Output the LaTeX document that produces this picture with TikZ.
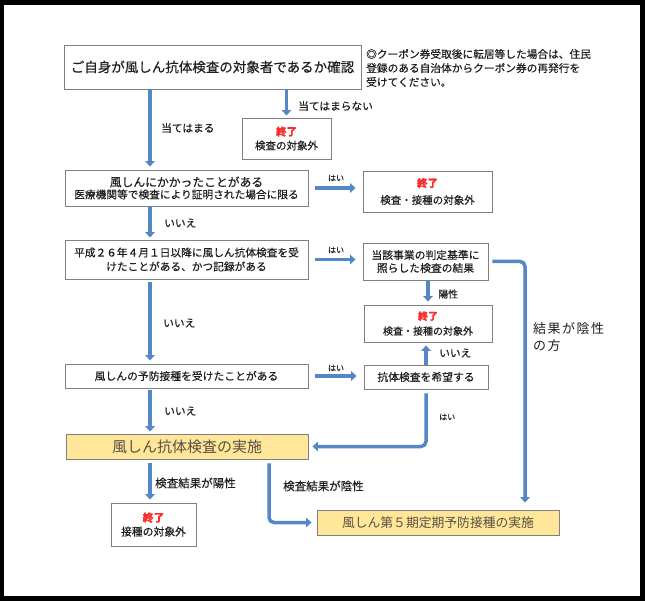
\documentclass[tikz,border=0pt]{standalone}
\usepackage{fontspec}
\setmainfont{Noto Sans CJK JP}[FakeBold=0.35]
\newfontfamily\thinjp{Noto Sans CJK JP}
\usetikzlibrary{arrows.meta}
\definecolor{flowblue}{RGB}{84,136,196}
\definecolor{boxgray}{RGB}{128,128,128}
\definecolor{goalfill}{RGB}{255,230,153}
\definecolor{goaltext}{RGB}{89,80,70}
\definecolor{endred}{RGB}{250,45,45}
\newcommand\shuryo{{\color{endred}\bfseries 終了}}
\newcommand\fs[2]{\fontsize{#1}{#2}\selectfont}

\begin{document}
\begin{tikzpicture}[x=1pt, y=-1pt,
     every node/.style={inner sep=0pt, text=black!88},
     fbox/.style={draw=boxgray, line width=0.9pt, fill=white, align=center},
     goal/.style={fbox, fill=goalfill, text=goaltext},
     lbl/.style={anchor=west, font=\fs{10.7}{13}},
     yes/.style={font=\fs{8}{10}},
     flow/.style={draw=flowblue, line width=3.5pt, -{Triangle[width=9.5pt,length=5.5pt]}},
     link/.style={flow, rounded corners=5pt}]

   \useasboundingbox (0,0) rectangle (645,601);
   \fill[black] (0,0) rectangle (645,601);
   \fill[white] (4,5) rectangle (640,596);

   \coordinate (lx) at (150,0);
   \coordinate (mx) at (269,0);
   \coordinate (rx) at (525,0);

   \node[fbox, minimum width=297pt, minimum height=44pt, font=\fs{13.5}{16}] (chk) at (212.5,67) {ご自身が風しん抗体検査の対象者であるか確認};
   \node[anchor=west, align=left, font=\fs{10.7}{14}] (note) at (366,68) {◎クーポン券受取後に転居等した場合は、住民\\登録のある自治体からクーポン券の再発行を\\受けてください。};
   \node[fbox, minimum width=89pt, minimum height=41pt, font=\fs{10.5}{14}] (out1) at (286.5,138.5) {\shuryo\\検査の対象外};
   \node[fbox, minimum width=243pt, minimum height=36pt] (rub) at (186.5,188) {{\fs{11.8}{13}風しんにかかったことがある}\\{\fs{10.7}{13}医療機関等で検査により証明された場合に限る}};
   \node[fbox, minimum width=129pt, minimum height=41pt, font=\fs{10.5}{17}] (out2) at (427.5,191.5) {\shuryo\\検査・接種の対象外};
   \node[fbox, minimum width=243pt, minimum height=39pt, font=\fs{10.7}{14}] (past) at (186.5,259.5) {平成２６年４月１日以降に風しん抗体検査を受\\けたことがある、かつ記録がある};
   \node[fbox, minimum width=125pt, minimum height=37pt, font=\fs{10.8}{13}] (judge) at (425.5,261.5) {当該事業の判定基準に\\照らした検査の結果};
   \node[fbox, minimum width=128pt, minimum height=37pt, font=\fs{10}{15}] (out3) at (428,323.5) {\shuryo\\検査・接種の対象外};
   \node[fbox, minimum width=243pt, minimum height=24pt, font=\fs{10.8}{13}] (vacc) at (186.5,376) {風しんの予防接種を受けたことがある};
   \node[fbox, minimum width=124pt, minimum height=24pt, font=\fs{10.8}{13}] (wish) at (426,377) {抗体検査を希望する};
   \node[goal, minimum width=242pt, minimum height=25pt, font=\thinjp\fs{15}{17}] (test) at (187,446.5) {風しん抗体検査の実施};
   \node[fbox, minimum width=85pt, minimum height=43pt, font=\fs{10.8}{14}] (out4) at (153.5,524.5) {\shuryo\\接種の対象外};
   \node[goal, minimum width=242pt, minimum height=25pt, font=\thinjp\fs{12.8}{15}] (vax5) at (438,522.5) {風しん第５期定期予防接種の実施};

   \draw[flow, shorten >=3pt] (chk.south -| lx) -- (rub.north -| lx);
   \draw[flow, shorten >=2pt] (chk.south -| out1.north) -- (out1.north);
   \draw[flow, shorten <=7pt, shorten >=7pt] (rub.east) -- (rub.east -| out2.west);
   \draw[flow, shorten >=2pt] (rub.south -| lx) -- (past.north -| lx);
   \draw[flow, shorten <=7pt, shorten >=7pt] (past.east) -- (past.east -| judge.west);
   \draw[flow, shorten <=1pt, shorten >=3pt] (out3.north |- judge.south) -- (out3.north);
   \draw[link, shorten <=4pt, shorten >=7pt] (judge.east) -| (rx |- vax5.north);
   \draw[flow, shorten <=3pt, shorten >=3pt] (past.south -| lx) -- (vacc.north -| lx);
   \draw[flow, shorten <=7pt, shorten >=7pt] (vacc.east) -- (vacc.east -| wish.west);
   \draw[flow, shorten >=3pt] (wish.north) -- (wish.north |- out3.south);
   \draw[flow, shorten <=2pt, shorten >=2pt] (vacc.south -| lx) -- (test.north -| lx);
   \draw[link, shorten <=4pt, shorten >=4pt] (wish.south) |- (test.east);
   \draw[flow, shorten <=4pt, shorten >=3pt] (test.south -| lx) -- (out4.north -| lx);
   \draw[link, shorten <=4pt, shorten >=5pt] (test.south -| mx) |- (vax5.west);

   \node[lbl] (fit) at (161,128) {当てはまる};
   \node[lbl] (unfit) at (298,106) {当てはまらない};
   \node[yes] (yes1) at (336,178) {はい};
   \node[lbl] (no1) at (164,223) {いいえ};
   \node[yes] (yes2) at (336,250) {はい};
   \node[lbl, font=\fs{10}{12}] (pos1) at (438,294) {陽性};
   \node[lbl] (no2) at (163,323) {いいえ};
   \node[yes] (yes3) at (336,368) {はい};
   \node[lbl] (no3) at (439,353) {いいえ};
   \node[lbl] (no4) at (164,411) {いいえ};
   \node[yes, anchor=west] (yes4) at (439,417) {はい};
   \node[lbl, font=\fs{11.5}{13}] (pos2) at (155,483) {検査結果が陽性};
   \node[lbl, font=\fs{11.5}{13}] (neg2) at (283,486) {検査結果が陰性};
   \node[anchor=north west, align=left, font=\thinjp\fs{13}{17}] (neg1) at (533,322) {結\kern1.5pt 果\kern1.5pt が\kern1.5pt 陰\kern1.5pt 性\\の\kern1.5pt 方};
\end{tikzpicture}
\end{document}
